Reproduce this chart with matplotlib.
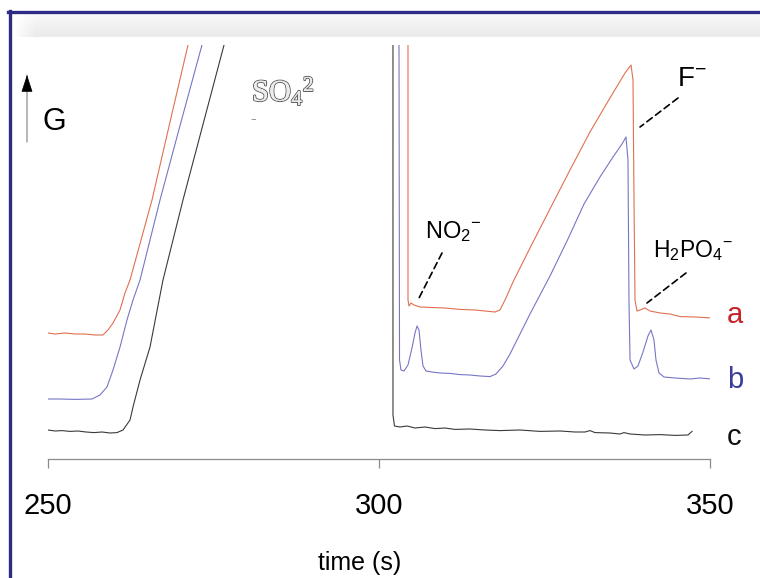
import numpy as np
import matplotlib.pyplot as plt
from matplotlib import patheffects
from matplotlib.lines import Line2D

plt.rcParams['font.family'] = ['Liberation Sans', 'DejaVu Sans']
plt.rcParams['mathtext.default'] = 'regular'

# trace a (red), injection 1
a1_t = [250.0, 251.06, 252.57, 254.08, 255.59, 257.1, 258.3, 259.06, 259.82, 260.88,
        261.63, 262.39, 264.05, 265.71, 268.43, 271.15, 271.45]
a1_g = [31.5, 31.25, 31.5, 31.25, 31.25, 31.0, 31.0, 32.25, 34.0, 37.25,
        41.5, 44.75, 54.75, 64.75, 84.25, 103.5, 106.0]
# trace a (red), injection 2
a2_t = [304.38, 304.38, 304.53, 304.83, 305.29, 306.19, 307.70, 309.97, 312.24, 314.50,
        316.01, 317.52, 318.28, 319.18, 320.24, 322.81, 326.13, 328.85, 331.87, 334.89,
        337.16, 338.07, 338.37, 338.52, 338.67, 338.97, 339.43, 340.18, 340.94, 342.45,
        343.96, 345.47, 347.73, 350.30]
a2_g = [104.75, 39.75, 38.25, 39.0, 38.5, 38.0, 37.9, 37.75, 37.4, 37.25,
        37.0, 36.75, 37.25, 40.25, 44.25, 52.75, 63.5, 72.25, 81.75, 90.25,
        96.5, 98.5, 94.75, 64.75, 39.75, 37.0, 37.25, 37.75, 37.0, 36.5,
        36.25, 35.6, 35.5, 35.25]

# trace b (blue)
b1_t = [250.0, 251.81, 254.08, 256.65, 257.85, 258.91, 259.82, 260.88, 261.93, 262.84,
        263.9, 266.92, 270.09, 273.26, 273.56]
b1_g = [15.0, 15.0, 14.9, 15.0, 16.0, 18.0, 22.25, 28.0, 34.75, 39.75,
        44.75, 64.75, 84.25, 103.5, 105.5]
b2_t = [303.02, 303.10, 303.32, 303.78, 304.38, 304.98, 305.44, 305.74, 306.04, 306.34,
        306.65, 307.10, 308.01, 309.21, 310.73, 312.24, 313.75, 315.26, 316.77, 317.67,
        318.73, 319.79, 322.81, 325.83, 328.40, 330.97, 333.38, 335.35, 336.71, 337.31,
        337.61, 337.76, 337.92, 338.52, 339.12, 339.88, 340.63, 341.09, 341.54, 341.84,
        342.30, 343.05, 344.71, 346.98, 348.49, 350.30]
b2_g = [104.75, 24.75, 22.25, 22.0, 23.5, 27.75, 31.5, 33.25, 32.25, 27.25,
        23.25, 22.0, 21.75, 21.5, 21.4, 21.1, 21.0, 20.75, 20.6, 21.25,
        23.25, 26.25, 36.25, 45.75, 54.5, 63.75, 70.5, 75.5, 78.75, 80.5,
        74.75, 39.75, 24.75, 22.5, 23.25, 26.75, 30.75, 32.25, 29.75, 24.75,
        21.5, 20.5, 20.25, 20.0, 20.25, 20.0]

# trace c (black)
c1_t = [250.0, 251.06, 252.11, 253.32, 254.53, 255.74, 256.95, 258.16, 259.37, 260.42,
        261.33, 262.39, 262.84, 263.9, 265.41, 267.37, 270.39, 276.59, 276.9]
c1_g = [7.25, 7.0, 7.1, 6.9, 7.0, 6.75, 6.6, 6.75, 6.5, 6.6,
        7.25, 9.75, 13.0, 19.75, 28.0, 44.75, 64.75, 103.5, 105.5]
c2_t = [302.11, 302.11, 302.34, 303.17, 304.23, 305.44, 306.95, 308.46, 309.97, 311.48,
        313.75, 316.01, 318.28, 321.30, 324.32, 327.34, 329.61, 331.12, 331.87, 332.63,
        334.89, 336.40, 337.01, 337.92, 340.18, 342.45, 344.71, 346.68, 347.28]
c2_g = [104.75, 11.0, 8.25, 8.0, 8.25, 7.75, 8.0, 7.6, 7.75, 7.4,
        7.5, 7.25, 7.1, 7.25, 6.9, 7.0, 6.75, 6.75, 7.1, 6.6,
        6.5, 6.25, 6.6, 6.25, 6.0, 6.1, 5.9, 6.0, 6.9]

xticks = [250, 300, 350]

W, H = 760, 578
fig = plt.figure(figsize=(7.6, 5.78), dpi=100)


def fx(px):
    return px / W


def fy(py):
    return 1 - py / H


# light grey band under the top border
bg = fig.add_axes([fx(12), fy(37), 1 - fx(12), 24 / H])
rows = np.linspace(0.975, 0.915, 24)[:, None]
cols = np.clip(np.linspace(0, 748 / 23, 748), 0, 1)[None, :]
bg.imshow(1 - (1 - rows) * cols, cmap='gray', vmin=0, vmax=1, aspect='auto')
bg.axis('off')

# navy frame (top and left only)
fig.add_artist(Line2D([fx(10), fx(10)], [fy(11), 0], color='#2e2b86', lw=2.4))
fig.add_artist(Line2D([fx(8), 1], [fy(12), fy(12)], color='#2e2b86', lw=2.4))

ax = fig.add_axes([fx(48), fy(459), fx(710) - fx(48), (459 - 45) / H])
ax.patch.set_alpha(0)

red, blue, black = '#e0704f', '#7676c6', '#3a3a3a'
lw = 0.8
ax.plot(a1_t, a1_g, color=red, lw=lw)
ax.plot(a2_t, a2_g, color=red, lw=lw)
ax.plot(b1_t, b1_g, color=blue, lw=lw)
ax.plot(b2_t, b2_g, color=blue, lw=lw)
ax.plot(c1_t, c1_g, color=black, lw=lw)
ax.plot(c2_t, c2_g, color=black, lw=lw)

ax.set_xlim(250, 350)
ax.set_ylim(0, 103.5)
ax.set_yticks([])
ax.set_xticks(xticks)
ax.set_xticklabels([str(v) for v in xticks])
for s in ['left', 'right', 'top']:
    ax.spines[s].set_visible(False)
ax.spines['bottom'].set_color('#8a8a8a')
ax.spines['bottom'].set_linewidth(0.9)
ax.tick_params(axis='x', direction='out', length=6.5, width=0.9, color='#8a8a8a',
               labelsize=21, pad=17)

# dashed leader lines
dash = dict(arrowstyle='-', linestyle=(0, (4, 2.5)), lw=1.2, color='black',
            shrinkA=0, shrinkB=0)
ax.annotate('', xy=(305.89, 39.75), xytext=(309.52, 51.5), arrowprops=dash)
ax.annotate('', xy=(339.43, 83.0), xytext=(345.17, 90.25), arrowprops=dash)
ax.annotate('', xy=(340.48, 39.0), xytext=(346.37, 46.5), arrowprops=dash)

# labels
fig.text(fx(360), fy(563), 'time (s)', ha='center', va='center', fontsize=18)
fig.text(fx(42), fy(130), 'G', va='baseline', fontsize=22)
ax.annotate('', xy=(27, H - 75), xytext=(27, H - 142), xycoords='figure pixels',
            arrowprops=dict(arrowstyle='-', color='#9a9a9a', lw=1.0, shrinkA=0, shrinkB=0))
ax.annotate('', xy=(27, H - 75), xytext=(27, H - 88), xycoords='figure pixels',
            arrowprops=dict(arrowstyle='-|>,head_length=1.1,head_width=0.36',
                            color='black', lw=0.5, shrinkA=0, shrinkB=0))

so4 = fig.text(fx(252), fy(101), 'SO$_4$$^2$', va='baseline', fontsize=22,
               family=['Liberation Serif', 'DejaVu Serif'], color='#ececec')
so4.set_path_effects([patheffects.withStroke(linewidth=1.4, foreground='#5a5a5a'),
                      patheffects.Normal()])
fig.text(fx(250), fy(123), '-', va='baseline', fontsize=12, color='#777777',
         family=['Liberation Serif', 'DejaVu Serif'])

fig.text(fx(425), fy(238), 'NO$_2$$^{-}$', va='baseline', fontsize=17)
fig.text(fx(677), fy(86), 'F$^{-}$', va='baseline', fontsize=20)
fig.text(fx(653), fy(257), 'H$_2$PO$_4$$^{-}$', va='baseline', fontsize=16.5)

fig.text(fx(727), fy(323), 'a', va='baseline', fontsize=21, color='#c8222a')
fig.text(fx(727), fy(388), 'b', va='baseline', fontsize=21, color='#3c3c9c')
fig.text(fx(727), fy(445), 'c', va='baseline', fontsize=21, color='#111111')

fig.savefig('out.png', dpi=100)
